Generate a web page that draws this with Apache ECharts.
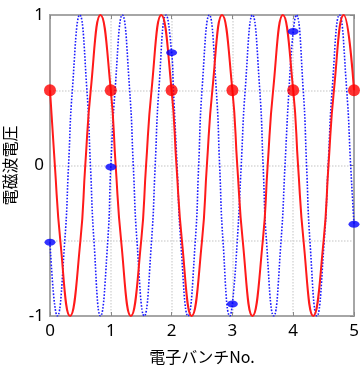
<!DOCTYPE html>
<html>
<head>
<meta charset="utf-8">
<script src="https://cdn.jsdelivr.net/npm/echarts@6/dist/echarts.min.js"></script>
<style>html,body{margin:0;padding:0;background:#fff;}#c{width:363px;height:371px;}</style>
</head>
<body>
<div id="c"></div>
<script>
// Red solid wave
var redX = [0,0.08,0.17,0.33,0.5,0.58,0.67,0.83, 1,1.08,1.17,1.33,1.5,1.58,1.67,1.83, 2,2.08,2.17,2.33,2.5,2.58,2.67,2.83, 3,3.08,3.17,3.33,3.5,3.58,3.67,3.83, 4,4.08,4.17,4.33,4.5,4.58,4.67,4.83, 5];
var redY = [0.5,0,-0.5,-1,-0.5,0,0.5,1, 0.5,0,-0.5,-1,-0.5,0,0.5,1, 0.5,0,-0.5,-1,-0.5,0,0.5,1, 0.5,0,-0.5,-1,-0.5,0,0.5,1, 0.5,0,-0.5,-1,-0.5,0,0.5,1, 0.5];
// Blue dotted wave
var blueX = [0,0.12,0.243,0.305,0.367,0.49,0.607,0.665,0.723,0.83,0.95,1.0,1.07,1.19,1.31,1.37,1.43,1.55,1.67,1.73,1.79,1.91,2.0,2.03,2.09,2.15,2.27,2.39,2.445,2.5,2.62,2.735,2.79,2.845,2.96,3.0,3.08,3.145,3.21,3.33,3.45,3.505,3.56,3.68,3.8,3.865,3.93,4.0,4.05,4.165,4.22,4.275,4.39,4.51,4.575,4.64,4.76,4.88,4.945,5.0];
var blueY = [-0.51,-1,-0.5,0,0.5,1,0.5,0,-0.5,-1,-0.5,-0.01,0.5,1,0.5,0,-0.5,-1,-0.5,0,0.5,1,0.75,0.5,0,-0.5,-1,-0.5,0,0.5,1,0.5,0,-0.5,-1,-0.92,-0.5,0,0.5,1,0.5,0,-0.5,-1,-0.5,0,0.5,0.89,1,0.5,0,-0.5,-1,-0.5,0,0.5,1,0.5,0,-0.39];
// Bunch markers
var bunchNo = [0,1,2,3,4,5];
var redDots = [0.5,0.5,0.5,0.5,0.5,0.5];
var blueDots = [-0.51,-0.01,0.75,-0.92,0.89,-0.39];
var yTickLabels = [-1, 0, 1];

function zip(a, b){ return a.map(function(v,i){ return [v, b[i]]; }); }

var chart = echarts.init(document.getElementById('c'), null, {renderer:'canvas'});
var labelFont = 'Noto Sans';
chart.setOption({
  animation: false,
  grid: {left: 50, right: 9, top: 15, bottom: 55, show: true, borderColor: '#a6a6a6', borderWidth: 2,
         backgroundColor: 'transparent', containLabel: false, outerBoundsMode: 'none'},
  xAxis: [{
    type: 'value', min: 0, max: 5, interval: 1,
    name: '電子バンチNo.', nameLocation: 'middle', nameGap: 33,
    nameTextStyle: {fontFamily: 'Noto Sans CJK JP', fontSize: 16, color: '#000'},
    axisLine: {show: true, onZero: false, lineStyle: {color: '#a6a6a6', width: 2}},
    axisTick: {show: true, inside: true, length: 4, lineStyle: {color: '#888'}},
    axisLabel: {fontFamily: labelFont, fontSize: 17, color: '#000', margin: 7},
    splitLine: {show: true, lineStyle: {color: '#d8d8d8', type: 'dotted', width: 1.5}}
  },{
    type: 'value', min: 0, max: 5, interval: 1, position: 'top',
    axisLine: {show: true, onZero: false, lineStyle: {color: '#a6a6a6', width: 2}},
    axisTick: {show: true, inside: true, length: 4, lineStyle: {color: '#888'}},
    axisLabel: {show: false}, splitLine: {show: false}
  }],
  yAxis: [{
    type: 'value', min: -1, max: 1, interval: 0.5,
    name: '電磁波電圧', nameLocation: 'middle', nameGap: 27,
    nameTextStyle: {fontFamily: 'Noto Sans CJK JP', fontSize: 16, color: '#000'},
    axisLine: {show: true, onZero: false, lineStyle: {color: '#a6a6a6', width: 2}},
    axisTick: {show: false},
    axisLabel: {fontFamily: labelFont, fontSize: 17, color: '#000', margin: 6,
      formatter: function(v){ return yTickLabels.indexOf(v) >= 0 ? String(v) : ''; }},
    splitLine: {show: true, lineStyle: {color: '#d8d8d8', type: 'dotted', width: 1.5}}
  },{
    type: 'value', min: -1, max: 1, interval: 1, position: 'right',
    axisLine: {show: true, onZero: false, lineStyle: {color: '#a6a6a6', width: 2}},
    axisTick: {show: true, inside: true, length: 4, lineStyle: {color: '#888'}},
    axisLabel: {show: false}, splitLine: {show: false}
  }],
  series: [
    {type: 'line', data: zip(blueX, blueY), smooth: 0.5, showSymbol: false, z: 2,
     lineStyle: {color: '#1a1aff', width: 1.6, type: 'dotted'}},
    {type: 'line', data: zip(redX, redY), smooth: 0.5, showSymbol: false, z: 3,
     lineStyle: {color: '#ff1a1a', width: 2}},
    {type: 'scatter', data: zip(bunchNo, redDots), symbol: 'circle', symbolSize: 12, clip: false, z: 5,
     itemStyle: {color: '#ff0000'}},
    {type: 'scatter', data: zip(bunchNo, blueDots), symbol: 'circle', symbolSize: [11, 7], clip: false, z: 6,
     itemStyle: {color: '#0000ff'}}
  ]
});
</script>
</body>
</html>
